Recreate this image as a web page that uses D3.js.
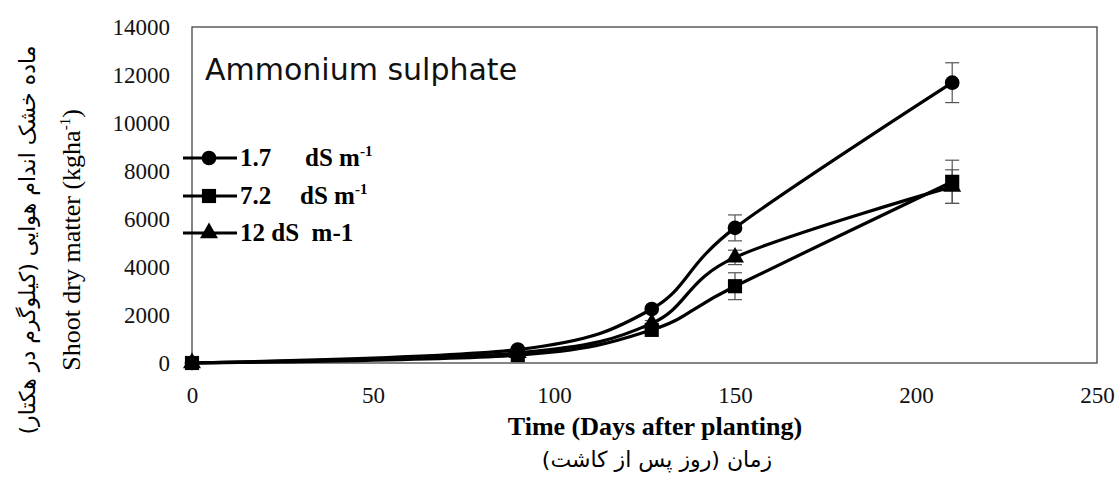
<!DOCTYPE html>
<html>
<head>
<meta charset="utf-8">
<script src="https://cdn.jsdelivr.net/npm/d3@7"></script>
<style>
  body { margin: 0; background: #fff; }
  text { white-space: pre; }
</style>
</head>
<body>
<script>
const width = 1120;
const height = 480;

// data
const days = [0, 90, 127, 150, 210];
const ec17 = [0, 560, 2250, 5630, 11680];
const ec72 = [0, 330, 1380, 3200, 7550];
const ec12 = [0, 420, 1650, 4400, 7350];
const err17 = [0, 0, 0, 540, 830];
const err72 = [0, 0, 0, 560, 900];
const err12 = [0, 0, 120, 300, 700];
const xTicks = [0, 50, 100, 150, 200, 250];
const yTicks = [0, 2000, 4000, 6000, 8000, 10000, 12000, 14000];

const series = [
  {values: ec17, err: err17, symbol: d3.symbolCircle, size: 170, label: '1.7', unit: 'dS m', sup: '-1'},
  {values: ec72, err: err72, symbol: d3.symbolSquare, size: 200, label: '7.2', unit: 'dS m', sup: '-1'},
  {values: ec12, err: err12, symbol: d3.symbolTriangle, size: 140, label: '12 dS  m-1', unit: null, sup: null}
];

const margin = {top: 27, right: 23, bottom: 117, left: 192};

const svg = d3.select('body').append('svg')
  .attr('width', width)
  .attr('height', height);

const x = d3.scaleLinear().domain([0, 250]).range([margin.left, width - margin.right]);
const y = d3.scaleLinear().domain([0, 14000]).range([height - margin.bottom, margin.top]);

const serif = "'Liberation Serif', 'Times New Roman', serif";
const persian = "'DejaVu Sans', sans-serif";

// axes (labels only, no ticks)
const yAxis = svg.append('g')
  .attr('transform', `translate(${margin.left},0)`)
  .call(d3.axisLeft(y).tickValues(yTicks).tickSize(0).tickPadding(22).tickFormat(d3.format('d')));
yAxis.select('.domain').remove();
yAxis.attr('font-family', null).attr('font-size', null);
yAxis.selectAll('text')
  .style('font-family', serif).style('font-size', '23px').attr('fill', '#111');

const xAxis = svg.append('g')
  .attr('transform', `translate(0,${y(0)})`)
  .call(d3.axisBottom(x).tickValues(xTicks).tickSize(0).tickPadding(24));
xAxis.select('.domain').remove();
xAxis.attr('font-family', null).attr('font-size', null);
xAxis.selectAll('text')
  .style('font-family', serif).style('font-size', '23px').attr('fill', '#111');

// frame
svg.append('rect')
  .attr('x', x(0)).attr('y', y(14000))
  .attr('width', x(250) - x(0)).attr('height', y(0) - y(14000))
  .attr('fill', 'none').attr('stroke', '#444').attr('stroke-width', 1.3);

// title inside plot
svg.append('text')
  .attr('x', 205).attr('y', 80)
  .attr('font-family', "'DejaVu Sans', sans-serif")
  .attr('font-size', 30)
  .attr('fill', '#111')
  .text('Ammonium sulphate');

// error bars
series.forEach(s => {
  const g = svg.append('g').attr('stroke', '#555').attr('stroke-width', 1.2);
  days.forEach((d, i) => {
    if (!s.err[i]) { return; }
    const cx = x(d);
    const y1 = y(s.values[i] + s.err[i]);
    const y2 = y(s.values[i] - s.err[i]);
    g.append('line').attr('x1', cx).attr('x2', cx).attr('y1', y1).attr('y2', y2);
    g.append('line').attr('x1', cx - 7).attr('x2', cx + 7).attr('y1', y1).attr('y2', y1);
    g.append('line').attr('x1', cx - 7).attr('x2', cx + 7).attr('y1', y2).attr('y2', y2);
  });
});

// smoothed lines
const line = d3.line()
  .x(d => x(d[0]))
  .y(d => y(d[1]))
  .curve(d3.curveCatmullRom.alpha(0));

series.forEach(s => {
  const pts = days.map((d, i) => [d, s.values[i]]);
  svg.append('path')
    .attr('d', line(pts))
    .attr('fill', 'none')
    .attr('stroke', '#000')
    .attr('stroke-width', 3.2);
  svg.append('g').selectAll('path')
    .data(pts)
    .enter().append('path')
      .attr('transform', d => `translate(${x(d[0])},${y(d[1])})`)
      .attr('d', d3.symbol().type(s.symbol).size(s.size))
      .attr('fill', '#000');
});

// legend
const legendY = [158, 196, 233];
series.forEach((s, i) => {
  const g = svg.append('g').attr('transform', `translate(0,${legendY[i]})`);
  g.append('line').attr('x1', 183).attr('x2', 237).attr('y1', 0).attr('y2', 0)
    .attr('stroke', '#000').attr('stroke-width', 3.2);
  g.append('path').attr('transform', 'translate(209,0)')
    .attr('d', d3.symbol().type(s.symbol).size(s.size)).attr('fill', '#000');
  const t = g.append('text')
    .attr('y', 8)
    .attr('font-family', serif)
    .attr('font-weight', 'bold')
    .attr('font-size', 25)
    .attr('fill', '#000');
  t.append('tspan').attr('x', 240).text(s.label);
  if (s.unit) {
    t.append('tspan').attr('x', i === 0 ? 305 : 300).text(s.unit);
    t.append('tspan').attr('dy', -10).attr('font-size', 15).text(s.sup);
  }
});

// x axis titles
svg.append('text')
  .attr('x', 655).attr('y', 435)
  .attr('text-anchor', 'middle')
  .attr('font-family', serif)
  .attr('font-weight', 'bold')
  .attr('font-size', 26)
  .attr('fill', '#000')
  .text('Time (Days after planting)');

svg.append('text')
  .attr('x', 657).attr('y', 467)
  .attr('text-anchor', 'middle')
  .attr('direction', 'rtl')
  .attr('font-family', persian)
  .attr('font-size', 22)
  .attr('fill', '#000')
  .text('زمان (روز پس از کاشت)');

// y axis titles
const yt = svg.append('text')
  .attr('transform', 'translate(80,240) rotate(-90)')
  .attr('text-anchor', 'middle')
  .attr('font-family', serif)
  .attr('font-size', 26)
  .attr('fill', '#000');
yt.append('tspan').text('Shoot dry matter (kgha');
yt.append('tspan').attr('dy', -10).attr('font-size', 15).text('-1');
yt.append('tspan').attr('dy', 10).text(')');

svg.append('text')
  .attr('transform', 'translate(35,240) rotate(-90)')
  .attr('text-anchor', 'middle')
  .attr('direction', 'rtl')
  .attr('font-family', persian)
  .attr('font-size', 22)
  .attr('fill', '#000')
  .text('ماده خشک اندام هوایی (کیلوگرم در هکتار)');
</script>
</body>
</html>
